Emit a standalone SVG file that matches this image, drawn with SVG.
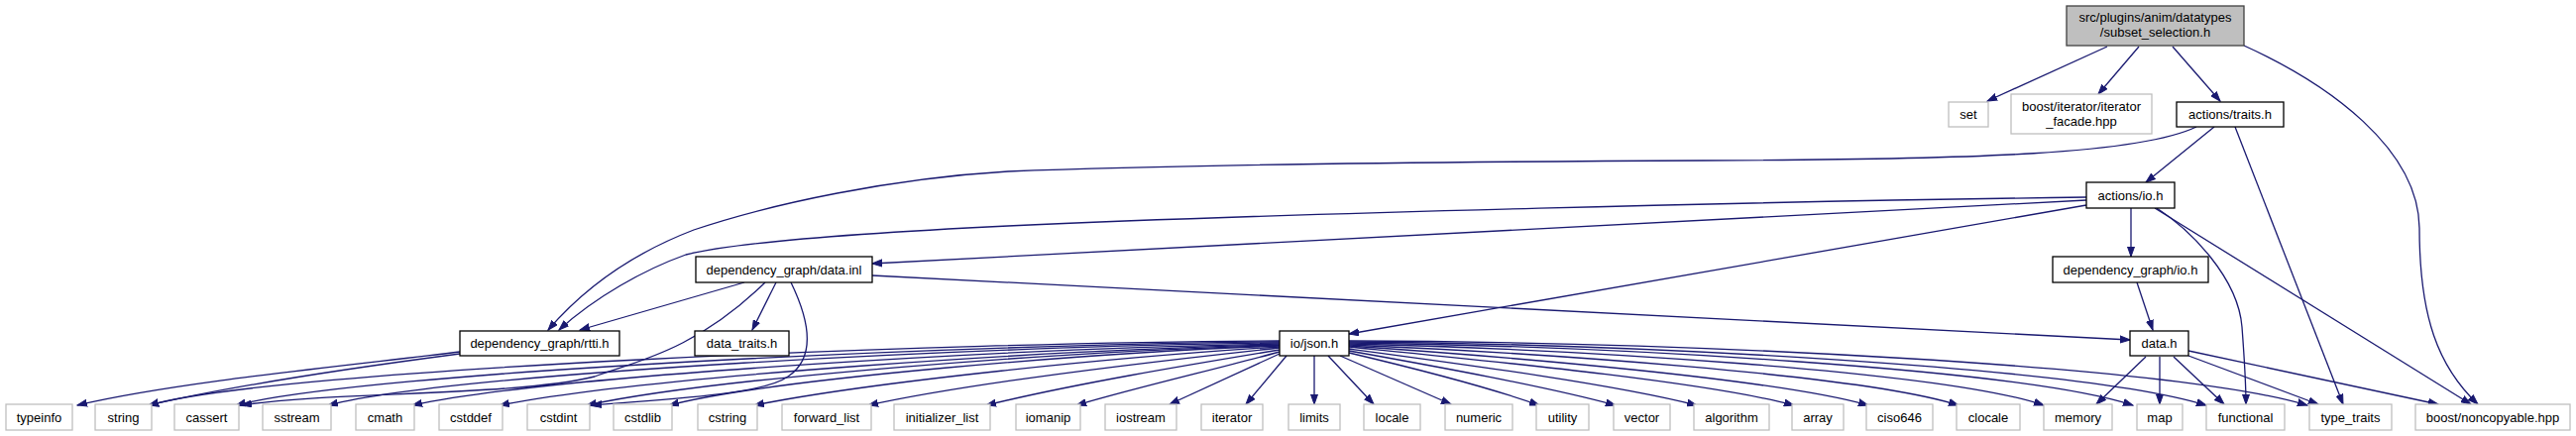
<svg xmlns="http://www.w3.org/2000/svg" width="2599" height="440" viewBox="0 0 2599 440">
<defs>
<style>
.e{fill:none;stroke:#191970;stroke-width:1.3;marker-end:url(#a)}
.ext rect{fill:#fff;stroke:#bfbfbf;stroke-width:1.3}
.int rect{fill:#fff;stroke:#000;stroke-width:1.3}
.root rect{fill:#bfbfbf;stroke:#404040;stroke-width:1.3}
text{font-family:"Liberation Sans",Arial,sans-serif;font-size:13px;fill:#000;text-anchor:middle}
</style>
<marker id="a" markerWidth="11" markerHeight="8" refX="10" refY="4" orient="auto" markerUnits="userSpaceOnUse"><path d="M0,0.5 L10,4 L0,7.5 z" fill="#191970" stroke="#191970" stroke-width="1"/></marker>
</defs>
<rect width="2599" height="440" fill="#fff"/>
<g id="edges">
<path class="e" d="M2126,47 L2005,102"/>
<path class="e" d="M2158,47 L2117,95"/>
<path class="e" d="M2192,47 L2240,102"/>
<path class="e" d="M2264,46 C2350,85 2440,150 2441,230 C2441,320 2460,370 2500,408"/>
<path class="e" d="M2216,128 C2160,155 2000,161 1719,162 C1500,163 1200,166 1017,173 C900,180 780,205 700,232 C640,255 590,290 553,333"/>
<path class="e" d="M2234,128 L2165,184"/>
<path class="e" d="M2255,128 L2364,408"/>
<path class="e" d="M2150,210 L2150,259"/>
<path class="e" d="M2176,210 C2210,232 2258,280 2262,330 C2265,370 2266,390 2266,408"/>
<path class="e" d="M2174,210 L2493,408"/>
<path class="e" d="M2105,207 L1361,337"/>
<path class="e" d="M2105,202 L880,266"/>
<path class="e" d="M2105,199 C1800,203 1300,215 1017,228 C850,236 740,245 692,257 C650,272 600,300 564,333"/>
<path class="e" d="M751,285 L585,333"/>
<path class="e" d="M783,285 L759,333"/>
<path class="e" d="M772,285 C700,355 640,365 600,380 C520,400 330,395 244,409"/>
<path class="e" d="M798,285 C815,320 825,360 795,380 C770,398 680,402 597,409"/>
<path class="e" d="M880,278 L2149,343"/>
<path class="e" d="M2156,285 L2172,333"/>
<path class="e" d="M2165,360 L2115,408"/>
<path class="e" d="M2179,360 L2179,408"/>
<path class="e" d="M2193,360 L2244,408"/>
<path class="e" d="M2208,359 L2339,408"/>
<path class="e" d="M2208,354 L2460,408"/>
<path class="e" d="M464,355 C360,368 180,385 78,409"/>
<path class="e" d="M464,357 C380,368 240,388 150,409"/>
<path class="e" d="M1291,344 C960,345 280,372 150,409"/>
<path class="e" d="M1291,345 C980,347 370,375 238,409"/>
<path class="e" d="M1291,346 C1000,349 460,376 331,409"/>
<path class="e" d="M1291,347 C1040,351 560,378 416,409"/>
<path class="e" d="M1291,348 C1060,353 650,380 504,409"/>
<path class="e" d="M1291,348.5 C1080,354 720,381 592,409"/>
<path class="e" d="M1291,349 C1100,356 780,382 675,409"/>
<path class="e" d="M1291,350 C1130,360 880,385 761,409"/>
<path class="e" d="M1291,351 C1170,364 980,386 876,409"/>
<path class="e" d="M1291,353 C1200,368 1080,388 995,409"/>
<path class="e" d="M1291,355 C1230,372 1150,390 1086,409"/>
<path class="e" d="M1291,357 L1180,408"/>
<path class="e" d="M1298,359 L1257,408"/>
<path class="e" d="M1326,359 L1326,408"/>
<path class="e" d="M1340,359 L1386,408"/>
<path class="e" d="M1352,359 L1464,408"/>
<path class="e" d="M1361,356 C1420,370 1500,390 1553,409"/>
<path class="e" d="M1361,354 C1450,370 1560,390 1630,409"/>
<path class="e" d="M1361,352 C1480,368 1630,388 1712,409"/>
<path class="e" d="M1361,350 C1500,364 1720,385 1810,409"/>
<path class="e" d="M1361,349 C1520,360 1790,382 1885,409"/>
<path class="e" d="M1361,348 C1550,356 1880,378 1976,409"/>
<path class="e" d="M1361,347 C1580,352 1960,374 2062,409"/>
<path class="e" d="M1361,346 C1620,349 2040,372 2152,409"/>
<path class="e" d="M1361,345 C1650,347 2100,370 2226,409"/>
<path class="e" d="M1361,344 C1700,345 2190,368 2328,409"/>
</g>
<g id="n_root" class="root"><rect x="2085" y="6" width="179" height="40"/><text x="2174.5" y="21.5">src/plugins/anim/datatypes</text><text x="2174.5" y="36.5">/subset_selection.h</text></g>
<g id="n_set" class="ext"><rect x="1966" y="103" width="40" height="25"/><text x="1986" y="120">set</text></g>
<g id="n_iterfacade" class="ext"><rect x="2029" y="95" width="142" height="40"/><text x="2100" y="111.5">boost/iterator/iterator</text><text x="2100" y="126.5">_facade.hpp</text></g>
<g id="n_traits" class="int"><rect x="2196" y="103" width="108" height="25"/><text x="2250" y="120">actions/traits.h</text></g>
<g id="n_actio" class="int"><rect x="2105" y="184" width="89" height="26"/><text x="2149.5" y="201.5">actions/io.h</text></g>
<g id="n_dgio" class="int"><rect x="2071" y="259" width="157" height="26"/><text x="2149.5" y="276.5">dependency_graph/io.h</text></g>
<g id="n_datainl" class="int"><rect x="702" y="259" width="178" height="26"/><text x="791" y="276.5">dependency_graph/data.inl</text></g>
<g id="n_rtti" class="int"><rect x="464" y="334" width="161" height="25"/><text x="544.5" y="351">dependency_graph/rtti.h</text></g>
<g id="n_datatraits" class="int"><rect x="701" y="334" width="95" height="25"/><text x="748.5" y="351">data_traits.h</text></g>
<g id="n_json" class="int"><rect x="1291" y="334" width="70" height="25"/><text x="1326" y="351">io/json.h</text></g>
<g id="n_datah" class="int"><rect x="2149" y="334" width="59" height="25"/><text x="2178.5" y="351">data.h</text></g>
<g id="n_typeinfo" class="ext"><rect x="6" y="408" width="67" height="26"/><text x="39.5" y="425.5">typeinfo</text></g>
<g id="n_string" class="ext"><rect x="96" y="408" width="57" height="26"/><text x="124.5" y="425.5">string</text></g>
<g id="n_cassert" class="ext"><rect x="176" y="408" width="65" height="26"/><text x="208.5" y="425.5">cassert</text></g>
<g id="n_sstream" class="ext"><rect x="265" y="408" width="69" height="26"/><text x="299.5" y="425.5">sstream</text></g>
<g id="n_cmath" class="ext"><rect x="359" y="408" width="59" height="26"/><text x="388.5" y="425.5">cmath</text></g>
<g id="n_cstddef" class="ext"><rect x="443" y="408" width="64" height="26"/><text x="475" y="425.5">cstddef</text></g>
<g id="n_cstdint" class="ext"><rect x="532" y="408" width="63" height="26"/><text x="563.5" y="425.5">cstdint</text></g>
<g id="n_cstdlib" class="ext"><rect x="619" y="408" width="59" height="26"/><text x="648.5" y="425.5">cstdlib</text></g>
<g id="n_cstring" class="ext"><rect x="704" y="408" width="60" height="26"/><text x="734" y="425.5">cstring</text></g>
<g id="n_forward_list" class="ext"><rect x="789" y="408" width="90" height="26"/><text x="834" y="425.5">forward_list</text></g>
<g id="n_initializer_list" class="ext"><rect x="902" y="408" width="97" height="26"/><text x="950.5" y="425.5">initializer_list</text></g>
<g id="n_iomanip" class="ext"><rect x="1025" y="408" width="65" height="26"/><text x="1057.5" y="425.5">iomanip</text></g>
<g id="n_iostream" class="ext"><rect x="1115" y="408" width="72" height="26"/><text x="1151" y="425.5">iostream</text></g>
<g id="n_iterator" class="ext"><rect x="1212" y="408" width="62" height="26"/><text x="1243" y="425.5">iterator</text></g>
<g id="n_limits" class="ext"><rect x="1300" y="408" width="52" height="26"/><text x="1326" y="425.5">limits</text></g>
<g id="n_locale" class="ext"><rect x="1376" y="408" width="57" height="26"/><text x="1404.5" y="425.5">locale</text></g>
<g id="n_numeric" class="ext"><rect x="1458" y="408" width="68" height="26"/><text x="1492" y="425.5">numeric</text></g>
<g id="n_utility" class="ext"><rect x="1550" y="408" width="53" height="26"/><text x="1576.5" y="425.5">utility</text></g>
<g id="n_vector" class="ext"><rect x="1628" y="408" width="57" height="26"/><text x="1656.5" y="425.5">vector</text></g>
<g id="n_algorithm" class="ext"><rect x="1709" y="408" width="76" height="26"/><text x="1747" y="425.5">algorithm</text></g>
<g id="n_array" class="ext"><rect x="1808" y="408" width="52" height="26"/><text x="1834" y="425.5">array</text></g>
<g id="n_ciso646" class="ext"><rect x="1883" y="408" width="67" height="26"/><text x="1916.5" y="425.5">ciso646</text></g>
<g id="n_clocale" class="ext"><rect x="1974" y="408" width="64" height="26"/><text x="2006" y="425.5">clocale</text></g>
<g id="n_memory" class="ext"><rect x="2062" y="408" width="69" height="26"/><text x="2096.5" y="425.5">memory</text></g>
<g id="n_map" class="ext"><rect x="2156" y="408" width="46" height="26"/><text x="2179" y="425.5">map</text></g>
<g id="n_functional" class="ext"><rect x="2226" y="408" width="79" height="26"/><text x="2265.5" y="425.5">functional</text></g>
<g id="n_type_traits" class="ext"><rect x="2330" y="408" width="83" height="26"/><text x="2371.5" y="425.5">type_traits</text></g>
<g id="n_noncopyable" class="ext"><rect x="2437" y="408" width="156" height="26"/><text x="2515" y="425.5">boost/noncopyable.hpp</text></g>
</svg>
